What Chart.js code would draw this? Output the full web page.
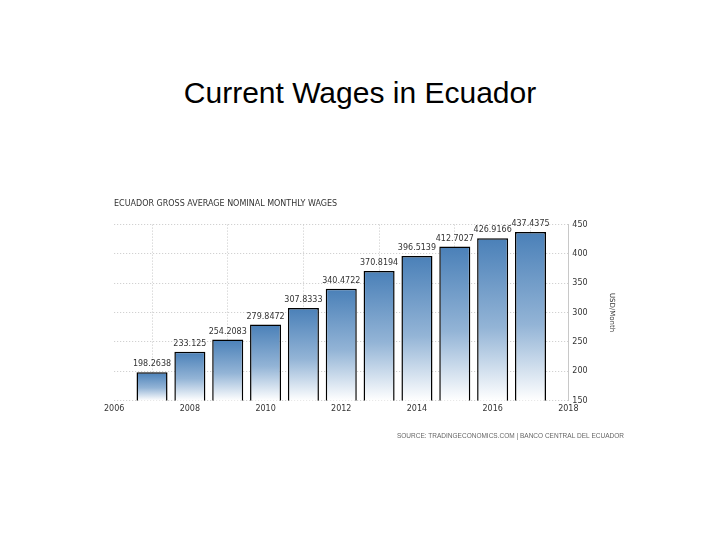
<!DOCTYPE html>
<html>
<head>
<meta charset="utf-8">
<script src="https://cdn.jsdelivr.net/npm/chart.js@4/dist/chart.umd.min.js"></script>
<style>
  body { margin: 0; background: #fff; width: 720px; height: 540px; position: relative; overflow: hidden; }
  #heading { position: absolute; left: 0; width: 720px; top: 76px; text-align: center;
    font-family: "Liberation Sans", Arial, sans-serif; font-size: 30px; color: #000; }
  #wrap { position: absolute; left: 100px; top: 190px; width: 530px; height: 260px; }
</style>
</head>
<body>
<div id="heading">Current Wages in Ecuador</div>
<div id="wrap"><canvas id="chart"></canvas></div>
<script>
const years = [2007, 2008, 2009, 2010, 2011, 2012, 2013, 2014, 2015, 2016, 2017];
const wages = [198.2638, 233.125, 254.2083, 279.8472, 307.8333, 340.4722, 370.8194, 396.5139, 412.7027, 426.9166, 437.4375];
const yTicks = [150, 200, 250, 300, 350, 400, 450];
const xTicks = [2006, 2008, 2010, 2012, 2014, 2016, 2018];

const tickFont = { family: "'DejaVu Sans', sans-serif", size: 8 };

// each bar gets its own blue-to-white fade
function barFill(context) {
    const chart = context.chart;
    if (!chart.chartArea) return '#4a7fb5';
    const yScale = chart.scales.y;
    const top = yScale.getPixelForValue(context.raw.y);
    const bottom = yScale.getPixelForValue(150);
    const g = chart.ctx.createLinearGradient(0, top, 0, bottom);
    g.addColorStop(0, '#4a80b8');
    g.addColorStop(0.55, '#93b4d6');
    g.addColorStop(1, '#ffffff');
    return g;
}

const valueLabels = {
    id: 'valueLabels',
    afterDatasetsDraw(chart) {
        const ctx = chart.ctx;
        const meta = chart.getDatasetMeta(0);
        ctx.save();
        ctx.font = "8px 'DejaVu Sans', sans-serif";
        ctx.fillStyle = '#333';
        ctx.textAlign = 'center';
        ctx.textBaseline = 'bottom';
        meta.data.forEach((bar, i) => {
            ctx.fillText(String(wages[i]), bar.x, bar.y - 4);
        });
        ctx.restore();
    }
};

new Chart(document.getElementById('chart'), {
    type: 'bar',
    data: {
        datasets: [{
            data: years.map((yr, i) => ({ x: yr, y: wages[i] })),
            backgroundColor: barFill,
            borderColor: '#000',
            borderWidth: { top: 1.5, left: 1.5, right: 1.5, bottom: 0 },
            borderSkipped: 'bottom',
            categoryPercentage: 1,
            barPercentage: 0.82
        }]
    },
    options: {
        responsive: true,
        maintainAspectRatio: false,
        animation: false,
        layout: { padding: { left: 14, right: 6, top: 0, bottom: 0 } },
        plugins: {
            legend: { display: false },
            tooltip: { enabled: false },
            title: {
                display: true,
                text: 'ECUADOR GROSS AVERAGE NOMINAL MONTHLY WAGES',
                align: 'start',
                color: '#333',
                font: { family: "'DejaVu Sans', sans-serif", size: 8, weight: 'normal' },
                padding: { top: 9, bottom: 16 }
            },
            subtitle: {
                display: true,
                position: 'bottom',
                align: 'end',
                text: 'SOURCE: TRADINGECONOMICS.COM | BANCO CENTRAL DEL ECUADOR',
                color: '#666',
                font: { family: "'Liberation Sans Narrow', 'Liberation Sans', sans-serif", size: 6.5 },
                padding: { top: 14, bottom: 10 }
            }
        },
        scales: {
            x: {
                type: 'linear',
                offset: false,
                min: 2006,
                max: 2018,
                afterBuildTicks: axis => { axis.ticks = xTicks.map(v => ({ value: v })); },
                ticks: { color: '#333', font: tickFont, padding: 4, callback: v => String(v) },
                grid: {
                    color: c => (c.tick && c.tick.value === 2006) ? 'rgba(0,0,0,0)' : '#c8c8c8',
                    lineWidth: 1,
                    drawTicks: false
                },
                border: { display: false, dash: [1, 2] }
            },
            y: {
                position: 'right',
                min: 150,
                max: 450,
                afterBuildTicks: axis => { axis.ticks = yTicks.map(v => ({ value: v })); },
                ticks: { color: '#333', font: tickFont, padding: 4 },
                grid: { color: '#c8c8c8', lineWidth: 1, drawTicks: false },
                border: { display: true, color: '#c8c8c8', dash: [1, 2] },
                title: {
                    display: true,
                    text: 'USD/Month',
                    color: '#333',
                    font: { family: "'DejaVu Sans', sans-serif", size: 7 },
                    padding: { top: 8, bottom: 16 }
                }
            }
        }
    },
    plugins: [valueLabels]
});
</script>
</body>
</html>
